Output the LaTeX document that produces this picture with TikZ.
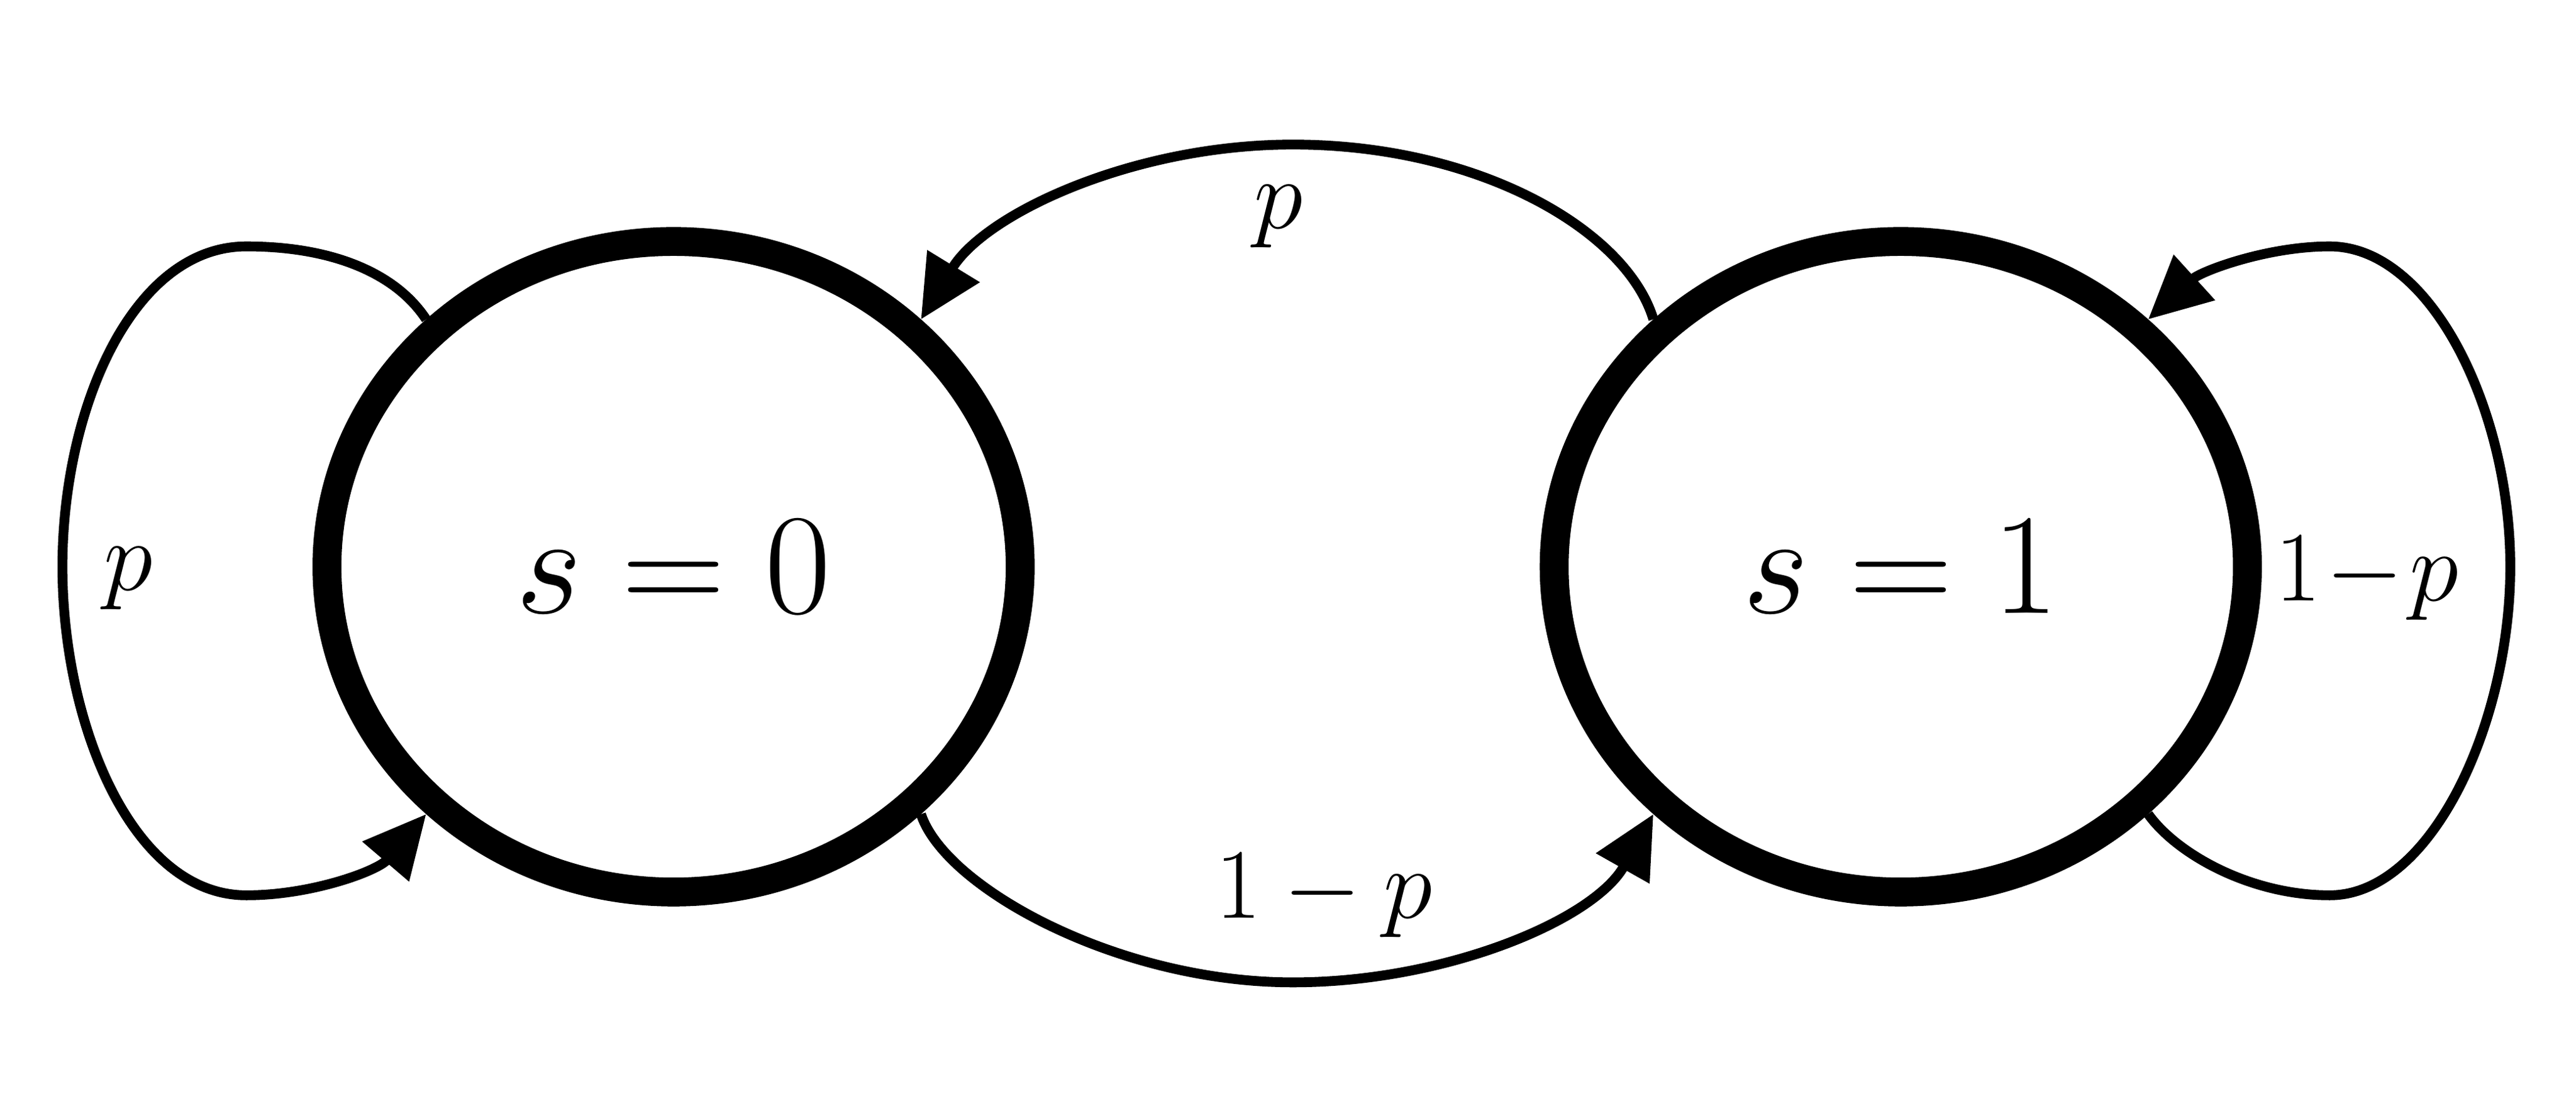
\documentclass[tikz,border=0pt]{standalone}
\usepackage{amsmath,amssymb}
\usetikzlibrary{shapes.geometric,arrows.meta}

\tikzset{
  state/.style={ellipse,draw,line width=5pt,minimum width=4.22cm,minimum height=3.96cm,font=\fontsize{30}{34}\selectfont},
  edge/.style={line width=1.7pt,-{Triangle[length=0.38cm,width=0.36cm]}},
  elabel/.style={font=\fontsize{16}{18}\selectfont}
}

\begin{document}
\begin{tikzpicture}[x=0.1mm,y=-0.1mm]
\useasboundingbox (0,0) rectangle (1568,679);
\node[state](s0) at (410,345) {$s=0$};
\node[state](s1) at (1157,345) {$s=1$};

% transitions between states
\draw[edge] (s1.135) .. controls (990,140) and (900,88) .. (787,88)
  .. controls (690,88) and (600,130) .. (s0.45);
\draw[edge] (s0.-45) .. controls (575,540) and (680,598) .. (787,598)
  .. controls (880,598) and (970,560) .. (s1.-135);

% self loops
\draw[edge] (s0.135) .. controls (240,165) and (200,150) .. (150,150)
  .. controls (80,150) and (38,250) .. (38,345)
  .. controls (38,440) and (80,545) .. (150,545)
  .. controls (190,545) and (230,530) .. (s0.-135);
\draw[edge] (s1.-45) .. controls (1325,520) and (1370,545) .. (1418,545)
  .. controls (1480,545) and (1528,440) .. (1528,345)
  .. controls (1528,250) and (1480,150) .. (1418,150)
  .. controls (1380,150) and (1340,165) .. (s1.45);

\node[elabel](l1) at (78,352) {$p$};
\node[elabel](l2) at (778,132) {$p$};
\node[elabel](l3) at (806,545) {$1-p$};
\node[elabel,anchor=west,inner sep=0pt](l4) at (1384,352) {$1\!-\!p$};
\end{tikzpicture}
\end{document}
